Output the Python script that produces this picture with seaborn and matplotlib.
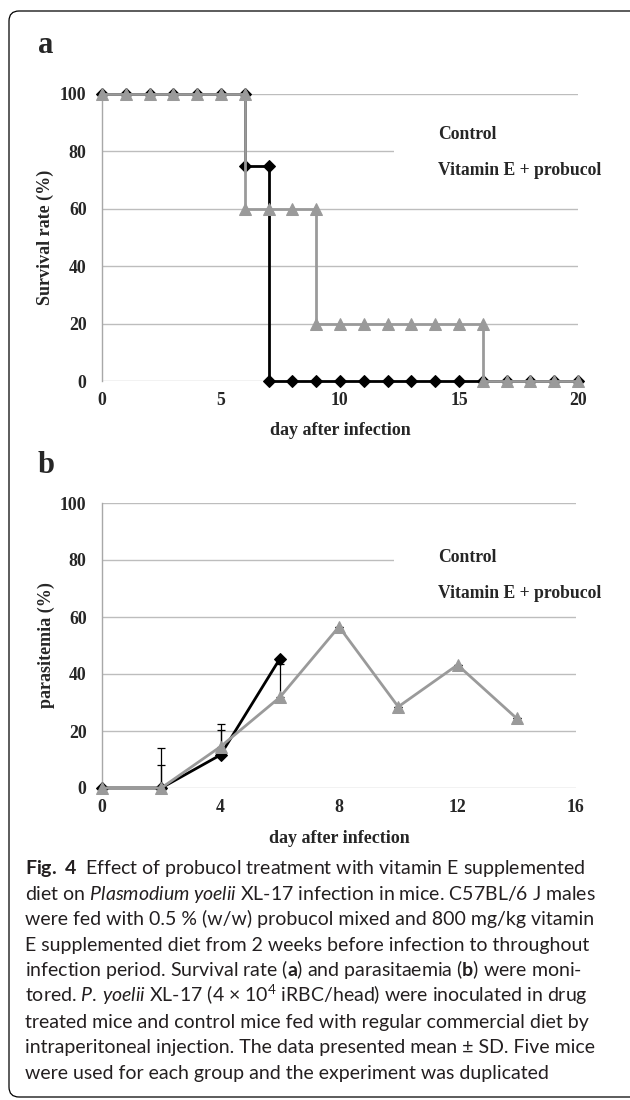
import matplotlib
matplotlib.use("Agg")
import matplotlib.pyplot as plt
import seaborn as sns
from matplotlib.patches import FancyBboxPatch
from matplotlib.transforms import IdentityTransform

# ---------------- data ----------------
# panel a: survival rate (%)
days_a_control = [0, 1, 2, 3, 4, 5, 6, 6, 7, 7, 8, 9, 10, 11, 12, 13, 14, 15, 16, 17, 18, 19, 20]
surv_control = [100, 100, 100, 100, 100, 100, 100, 75, 75, 0, 0, 0, 0, 0, 0, 0, 0, 0, 0, 0, 0, 0, 0]
days_a_vite = [0, 1, 2, 3, 4, 5, 6, 6, 7, 8, 9, 9, 10, 11, 12, 13, 14, 15, 16, 16, 17, 18, 19, 20]
surv_vite = [100, 100, 100, 100, 100, 100, 100, 60, 60, 60, 60, 20, 20, 20, 20, 20, 20, 20, 20, 0, 0, 0, 0, 0]

# panel b: parasitemia (%)
days_b_control = [0, 2, 4, 6]
para_control = [0, 0, 11.6, 45.3]
err_control = [0, 8, 10.8, 0]
days_b_vite = [0, 2, 4, 6, 8, 10, 12, 14]
para_vite = [0, 0, 14.5, 31.8, 56.6, 28.5, 43.2, 24.4]
err_vite = [0, 14, 6, 11.6, 0, 0, 0, 0]

labels = ["Control", "Vitamin E + probucol"]
xticks_a = [0, 5, 10, 15, 20]
xticks_b = [0, 4, 8, 12, 16]
yticks = [0, 20, 40, 60, 80, 100]

caption_lines = [
    r"$\mathbf{Fig.\ 4}$  Effect of probucol treatment with vitamin E supplemented",
    r"diet on $\mathit{Plasmodium\;yoelii}$ XL-17 infection in mice. C57BL/6 J males",
    r"were fed with 0.5 % (w/w) probucol mixed and 800 mg/kg vitamin",
    r"E supplemented diet from 2 weeks before infection to throughout",
    r"infection period. Survival rate ($\mathbf{a}$) and parasitaemia ($\mathbf{b}$) were moni-",
    r"tored. $\mathit{P.\,yoelii}$ XL-17 (4 × 10$^{4}$ iRBC/head) were inoculated in drug",
    r"treated mice and control mice fed with regular commercial diet by",
    r"intraperitoneal injection. The data presented mean ± SD. Five mice",
    r"were used for each group and the experiment was duplicated",
]

# ---------------- style ----------------
sns.set_style("white")
plt.rcParams["font.family"] = ["Liberation Serif", "DejaVu Serif"]
plt.rcParams["mathtext.fontset"] = "custom"
plt.rcParams["mathtext.rm"] = "Lato"
plt.rcParams["mathtext.it"] = "Lato:italic"
plt.rcParams["mathtext.bf"] = "Lato:bold"

W, H = 630, 1100
fig = plt.figure(figsize=(W / 100, H / 100), dpi=100)
fig.patch.set_facecolor("white")

BLACK = "#000000"
GRAY = "#9a9a9a"
GRID = "#bdbdbd"
AXIS = "#a8a8a8"
SERIF = "Liberation Serif"
TICKSIZE = 12.8
LABELSIZE = 13


def px_axes(left, top, right, bottom):
    return fig.add_axes([left / W, 1 - bottom / H, (right - left) / W, (bottom - top) / H])


def style_axes(ax, xmax, xticks):
    ax.set_xlim(0, xmax)
    ax.set_ylim(0, 100)
    ax.set_xticks(xticks)
    ax.set_yticks(yticks)
    for s in ["top", "right", "bottom"]:
        ax.spines[s].set_visible(False)
    ax.spines["left"].set_color(AXIS)
    ax.spines["left"].set_linewidth(1.0)
    ax.spines["left"].set_zorder(1)
    ax.grid(False)
    for y in yticks:
        ax.axhline(y, color=GRID, lw=1.0, zorder=0.5)
    ax.tick_params(axis="both", length=0)
    ax.tick_params(axis="y", pad=11)
    ax.tick_params(axis="x", pad=8)
    for lab in ax.get_xticklabels() + ax.get_yticklabels():
        lab.set_fontfamily(SERIF)
        lab.set_fontweight("bold")
        lab.set_fontsize(TICKSIZE)
    ax.set_facecolor("none")


def add_legend(ax, handles, x, y):
    leg = ax.legend(handles, labels, loc="upper left", bbox_to_anchor=(x, y),
                    borderaxespad=0, frameon=True, fancybox=False, edgecolor="none",
                    facecolor="white", framealpha=1,
                    prop=dict(family=SERIF, weight="bold", size=12.7),
                    handlelength=1.2, handletextpad=0.8, labelspacing=1.1, borderpad=0.5)
    for h in leg.legend_handles:
        h.set_visible(False)
    leg.set_zorder(3)
    return leg


# ---------------- panel a ----------------
ax1 = px_axes(102, 94, 578, 381)
sns.lineplot(x=days_a_control, y=surv_control, ax=ax1, estimator=None, sort=False,
             color=BLACK, lw=2.0, marker="D", markersize=6, markeredgecolor=BLACK,
             markerfacecolor=BLACK, clip_on=False, zorder=4)
h1 = ax1.lines[-1]
sns.lineplot(x=days_a_vite, y=surv_vite, ax=ax1, estimator=None, sort=False,
             color=GRAY, lw=2.0, marker="^", markersize=8.5, markeredgecolor=GRAY,
             markerfacecolor=GRAY, clip_on=False, zorder=5)
h2 = ax1.lines[-1]
style_axes(ax1, 20, xticks_a)
ax1.set_ylabel("Survival rate (%)", fontsize=LABELSIZE, fontweight="bold", family=SERIF)
ax1.set_xlabel("day after infection", fontsize=LABELSIZE, fontweight="bold", family=SERIF)
ax1.yaxis.set_label_coords(-0.10, 0.5)
ax1.xaxis.set_label_coords(0.5, -0.143)
add_legend(ax1, [h1, h2], 0.613, 0.92)

# ---------------- panel b ----------------
ax2 = px_axes(102, 503, 576, 788)
ax2.errorbar(days_b_control, para_control, yerr=[[0] * len(err_control), err_control],
             fmt="none", ecolor=BLACK, elinewidth=0.9, capsize=3, capthick=0.9, zorder=2)
ax2.errorbar(days_b_vite, para_vite, yerr=[[0] * len(err_vite), err_vite],
             fmt="none", ecolor=BLACK, elinewidth=0.9, capsize=3, capthick=0.9, zorder=2)
sns.lineplot(x=days_b_control, y=para_control, ax=ax2, estimator=None, sort=False,
             color=BLACK, lw=2.0, marker="D", markersize=6, markeredgecolor=BLACK,
             markerfacecolor=BLACK, clip_on=False, zorder=4)
g1 = ax2.lines[-1]
sns.lineplot(x=days_b_vite, y=para_vite, ax=ax2, estimator=None, sort=False,
             color=GRAY, lw=2.0, marker="^", markersize=8.5, markeredgecolor=GRAY,
             markerfacecolor=GRAY, clip_on=False, zorder=5)
g2 = ax2.lines[-1]
style_axes(ax2, 16, xticks_b)
ax2.set_ylabel("parasitemia (%)", fontsize=LABELSIZE, fontweight="bold", family=SERIF)
ax2.set_xlabel("day after infection", fontsize=LABELSIZE, fontweight="bold", family=SERIF)
ax2.yaxis.set_label_coords(-0.10, 0.5)
ax2.xaxis.set_label_coords(0.5, -0.148)
add_legend(ax2, [g1, g2], 0.616, 0.87)

# ---------------- panel letters ----------------
fig.text(38 / W, 1 - 53 / H, "a", family=SERIF, weight="bold", size=22,
         ha="left", va="baseline")
fig.text(38 / W, 1 - 473 / H, "b", family=SERIF, weight="bold", size=22,
         ha="left", va="baseline")

# ---------------- caption ----------------
cap_kw = dict(family=["Lato", "DejaVu Sans"], weight="normal", color="#231f20",
              ha="left", va="baseline")
probe = fig.text(0, 0, caption_lines[7], size=12, **cap_kw)
fig.canvas.draw()
wpx = probe.get_window_extent().width
probe.remove()
cap_size = 12 * 567 / wpx
for i, line in enumerate(caption_lines):
    fig.text(25 / W, 1 - (874 + i * 25.6) / H, line, size=cap_size, **cap_kw)

# ---------------- rounded frame ----------------
frame = FancyBboxPatch((9, 3), 720, 1086, boxstyle="round,pad=0,rounding_size=10",
                       transform=IdentityTransform(), fill=False, lw=0.9, ec="black")
fig.add_artist(frame)

fig.savefig("out.png", dpi=100, facecolor="white")
